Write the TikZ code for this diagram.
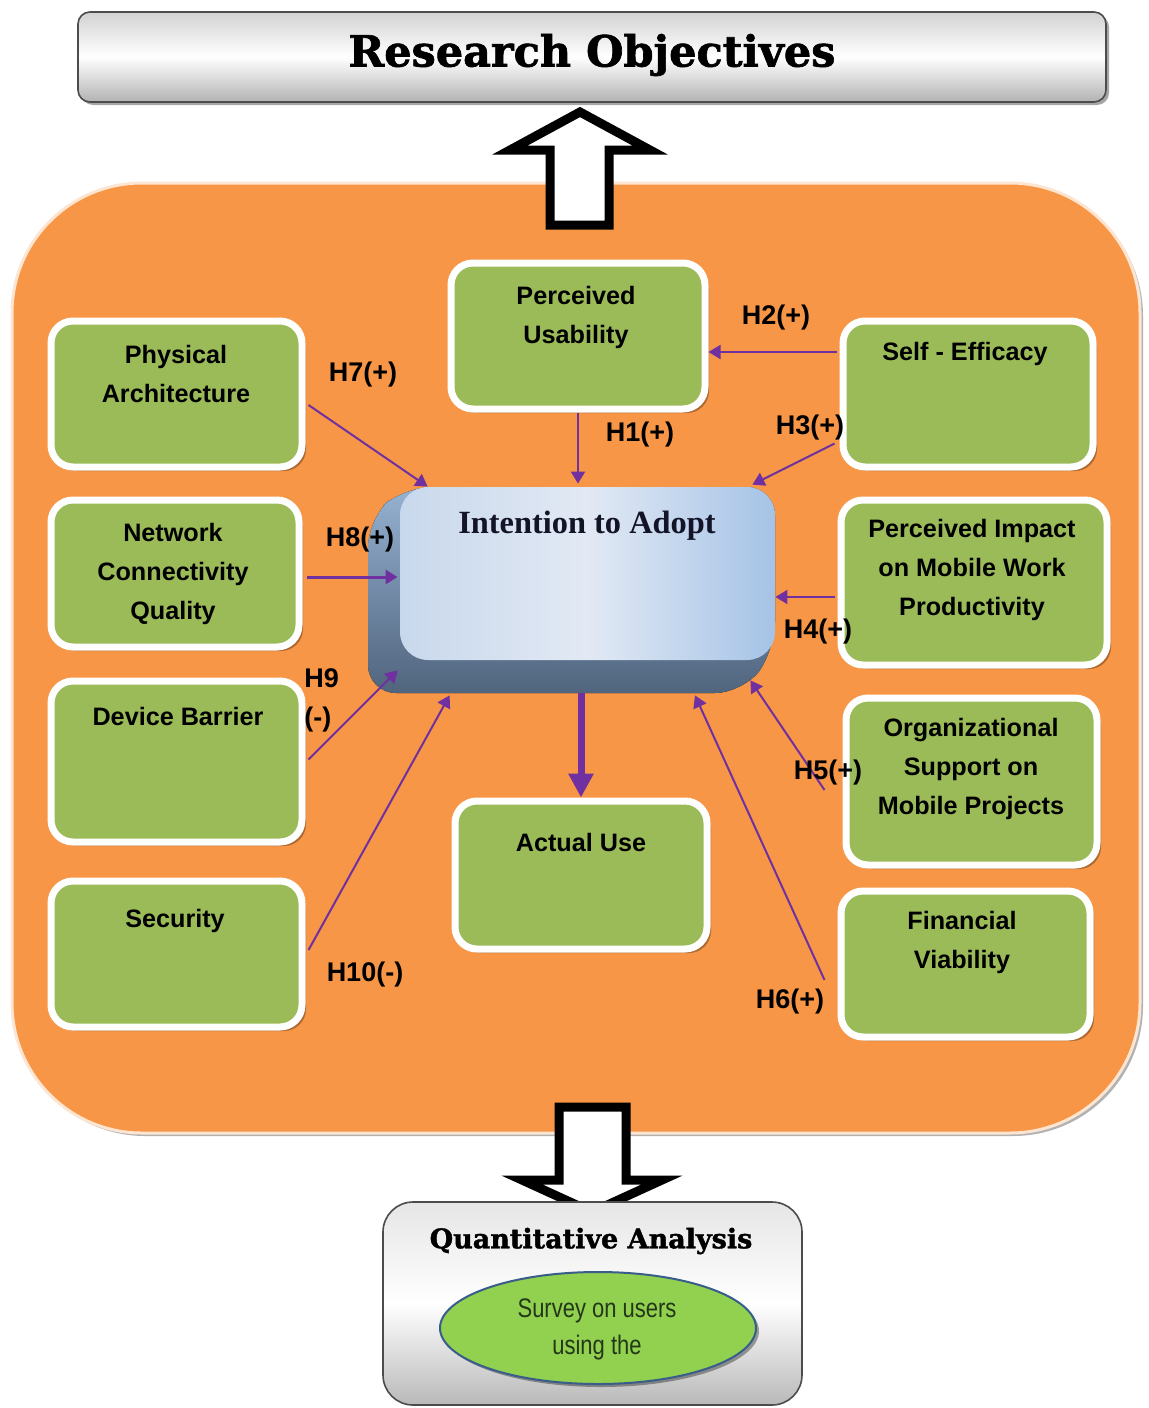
\documentclass[tikz,border=0pt]{standalone}
\usepackage{fontspec}
\setmainfont{Liberation Serif}
\setsansfont{Liberation Sans}
\newfontfamily\narrowsans[FakeStretch=0.82]{Liberation Sans}
\newfontfamily\slabserif[BoldFeatures={FakeBold=1.5}]{DejaVu Serif}
\usetikzlibrary{arrows.meta,shadows,fit,calc,shapes.geometric}
\definecolor{orangebg}{RGB}{247,150,70}
\definecolor{greenbox}{RGB}{155,187,89}
\definecolor{purplearr}{RGB}{112,48,160}
\definecolor{ellgreen}{RGB}{146,208,80}
\definecolor{ellline}{RGB}{56,93,138}
\definecolor{depthtop}{RGB}{150,178,210}
\definecolor{depthbot}{RGB}{80,100,125}
\definecolor{faceL}{RGB}{200,216,236}
\definecolor{faceM}{RGB}{226,233,244}
\definecolor{faceR}{RGB}{165,195,230}
\definecolor{itatext}{RGB}{20,20,40}
\definecolor{survtext}{RGB}{35,55,25}
\tikzset{
  gbox/.style={fill=greenbox, draw=white, line width=3.5pt, rounded corners=11pt, inner sep=0pt,
    drop shadow={shadow xshift=2pt, shadow yshift=-2pt, opacity=0.3, fill=black}},
  gtext/.style={font={\sffamily\bfseries\fontsize{12.6}{19.5}\selectfont}, align=center, text=black, inner sep=0pt},
  hlab/.style={font={\sffamily\bfseries\fontsize{13.5}{19.5}\selectfont}, inner sep=0pt, text=black},
  harr/.style={draw=purplearr, line width=1pt, -{Triangle[width=7pt,length=6pt]}},
  greybox/.style={inner sep=0pt, draw=black!70, line width=0.8pt, top color=gray!35, bottom color=gray!60, middle color=white,
    drop shadow={shadow xshift=1.5pt, shadow yshift=-1.5pt, opacity=0.35, fill=black}},
  blockarrow/.style={draw=black, fill=white, line width=4.5pt, line join=miter}
}
\begin{document}
\begin{tikzpicture}[x=0.5pt,y=-0.5pt]
\useasboundingbox (0,0) rectangle (1149,1408);
\fill[white] (0,0) rectangle (1149,1408);

% Research objectives
\node[greybox, rounded corners=6pt, fit={(78,12)(1106,102)}] (ro) {};
\node[font={\slabserif\bfseries\fontsize{21.5}{26}\selectfont}, inner sep=0pt] (rot) at (592,55) {Research Objectives};

% orange frame
\node[fit={(12,183)(1140,1133)}, inner sep=0pt, fill=orangebg, draw=white!75!orangebg, line width=1.5pt, rounded corners=65pt,
  drop shadow={shadow xshift=1.5pt, shadow yshift=-1.5pt, opacity=0.3, fill=black}] (frame) {};

% up block arrow
\draw[blockarrow] (580,112) -- (650,150) -- (609,150) -- (609,225) -- (550,225) -- (550,150) -- (510,150) -- cycle;

% green boxes
\node[gbox, fit={(51,321)(302,467)}] (pa) {};
\node[gbox, fit={(51,500)(299,647)}] (ncq) {};
\node[gbox, fit={(51,681)(302,842)}] (db) {};
\node[gbox, fit={(51,881)(302,1027)}] (sec) {};
\node[gbox, fit={(451,263)(705,409)}] (pu) {};
\node[gbox, fit={(843,321)(1093,467)}] (se) {};
\node[gbox, fit={(841,500)(1107,665)}] (pi) {};
\node[gbox, fit={(846,698)(1097,865)}] (os) {};
\node[gbox, fit={(841,891)(1090,1037)}] (fv) {};
\node[gbox, fit={(455,801)(707,949)}] (au) {};

\node[gtext] (pat) at (176,374) {Physical\\Architecture};
\node[gtext] (ncqt) at (173,574) {Network\\Connectivity\\Quality};
\node[gtext] (dbt) at (178,716) {Device Barrier};
\node[gtext] (sect) at (175,921) {Security};
\node[gtext] (put) at (576,317) {Perceived\\Usability};
\node[gtext] (set) at (965,354) {Self - Efficacy};
\node[gtext] (pit) at (972,570) {Perceived Impact\\on Mobile Work\\Productivity};
\node[gtext] (ost) at (971,769) {Organizational\\Support on\\Mobile Projects};
\node[gtext] (fvt) at (962,942) {Financial\\Viability};
\node[gtext] (aut) at (581,842) {Actual Use};

% Intention to Adopt (3D)
\fill[rounded corners=14pt, top color=depthtop, bottom color=depthbot]
  (404,487) -- (775,487) -- (775,650) -- (743,693) -- (368,693) -- (368,519) -- cycle;
\node[fit={(400,487)(775,660)}, inner sep=0pt, rounded corners=14pt,
  left color=faceL, right color=faceR, middle color=faceM] (ita) {};
\node[font={\bfseries\fontsize{16.2}{20}\selectfont}, text=itatext, inner sep=0pt] (itat) at (587,526) {Intention to Adopt};

% hypothesis arrows
\draw[harr] (pu.south) -- ($(pu.south |- ita.north)+(0,-3)$);
\coordinate (h2s) at ($(se.west)+(-3,-42)$);
\draw[harr] (h2s) -- (pu.east |- h2s);
\draw[harr] ($(se.south west)+(-5,-27)$) -- ($(ita.north east)+(-23,-2)$);
\coordinate (h4s) at ($(pi.west)+(-3,14.5)$);
\draw[harr] (h4s) -- (ita.east |- h4s);
\draw[harr] ($(os.west)+(-18,8.5)$) -- ($(ita.south east)+(-25,20)$);
\draw[harr] ($(fv.west)+(-13,16)$) -- ($(ita.south)+(107.5,35)$);
\draw[harr] ($(pa.east)+(3,11)$) -- ($(ita.north west)+(28,0)$);
\draw[harr, line width=1.5pt] ($(ncq.east)+(4,3.5)$) -- ($(ita.west)+(-2,3.5)$);
\draw[harr] ($(db.east)+(3,-2)$) -- ($(ita.south west)+(-2,10)$);
\draw[harr] ($(sec.east)+(3,-4)$) -- ($(ita.south west)+(50,35)$);
\draw[draw=purplearr, line width=3.5pt, -{Triangle[width=12pt,length=12pt]}] ($(ita.south)+(-6.5,33)$) -- (au.north);

% labels
\node[hlab] (l1) at (640,435) {H1(+)};
\node[hlab] (l2) at (776,318) {H2(+)};
\node[hlab] (l3) at (810,428) {H3(+)};
\node[hlab] (l4) at (818,632) {H4(+)};
\node[hlab] (l5) at (828,773) {H5(+)};
\node[hlab] (l6) at (790,1002) {H6(+)};
\node[hlab] (l7) at (363,375) {H7(+)};
\node[hlab] (l8) at (360,540) {H8(+)};
\node[hlab, align=left, anchor=west] (l9) at (304,700) {H9\\(-)};
\node[hlab] (l10) at (365,975) {H10(-)};

% down block arrow
\draw[blockarrow] (559,1107) -- (626,1107) -- (626,1180) -- (662,1180) -- (592,1212) -- (522,1180) -- (559,1180) -- cycle;

% Quantitative analysis
\node[inner sep=0pt, draw=black!70, line width=0.8pt, rounded corners=15pt, top color=gray!20, bottom color=gray!55, middle color=white,
  fit={(383,1202)(802,1405)}] (qa) {};
\node[font={\slabserif\bfseries\fontsize{13.5}{17}\selectfont}, inner sep=0pt] (qat) at (591,1241) {Quantitative Analysis};
\node[ellipse, minimum width=158pt, minimum height=56pt, inner sep=0pt, fill=ellgreen, draw=ellline, line width=1pt,
  drop shadow={shadow xshift=1.5pt, shadow yshift=-1.5pt, opacity=0.35, fill=black}] (surv) at (598,1328) {};
\node[font={\narrowsans\fontsize{13.4}{18.5}\selectfont}, text=survtext, align=center, inner sep=0pt] (survt) at (597,1329) {Survey on users\\using the};
\end{tikzpicture}
\end{document}
